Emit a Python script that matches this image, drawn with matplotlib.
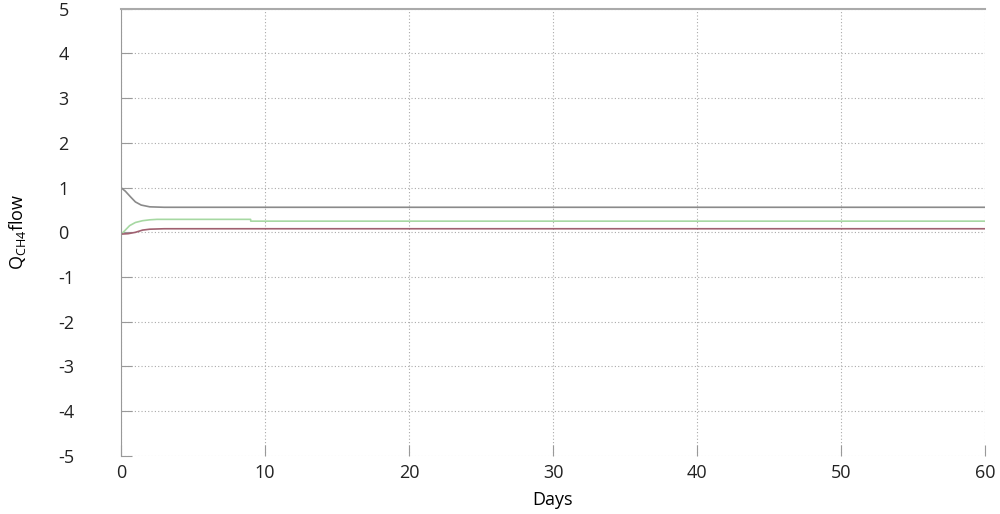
import matplotlib
matplotlib.use("Agg")
import matplotlib.pyplot as plt

# values
grey_days = [0, 0.3, 0.7, 1.0, 1.4, 2.0, 3.0, 4.0, 60]
grey_vals = [1.0, 0.92, 0.78, 0.68, 0.61, 0.57, 0.56, 0.56, 0.56]

green_days = [0, 0.3, 0.6, 1.0, 1.5, 2.0, 2.5, 9.0, 9.01, 60]
green_vals = [-0.05, 0.05, 0.15, 0.22, 0.26, 0.28, 0.29, 0.29, 0.25, 0.25]

red_days = [0, 0.5, 1.0, 1.5, 2.0, 3.0, 60]
red_vals = [-0.04, -0.03, 0.0, 0.05, 0.07, 0.08, 0.08]

x_ticks = [0, 10, 20, 30, 40, 50, 60]
y_ticks = [-5, -4, -3, -2, -1, 0, 1, 2, 3, 4, 5]

plt.rcParams['font.family'] = ['Open Sans', 'DejaVu Sans']
plt.rcParams['axes.unicode_minus'] = False

fig = plt.figure(figsize=(10, 5.14), dpi=100)
ax = fig.add_axes([0.121, 0.113, 0.864, 0.87])

ax.plot(grey_days, grey_vals, color='#8a8a8a', lw=1.2)
ax.plot(green_days, green_vals, color='#a6d8a2', lw=1.2)
ax.plot(red_days, red_vals, color='#a06070', lw=1.2)

ax.set_xlim(0, 60)
ax.set_ylim(-5, 5)
ax.set_xticks(x_ticks)
ax.set_yticks(y_ticks)
ax.grid(True, color='#aaaaaa', linestyle=(0, (1, 2)), lw=0.8)

for side in ['bottom', 'right']:
    ax.spines[side].set_visible(False)
ax.spines['left'].set_color('#999999')
ax.spines['top'].set_color('#aaaaaa')
ax.spines['top'].set_linewidth(1.5)

ax.tick_params(axis='both', colors='#999999', labelcolor='#222222', labelsize=13)
ax.tick_params(axis='x', length=8, direction='in', pad=6)
ax.tick_params(axis='y', length=8, direction='in', pad=45)
for lab in ax.get_yticklabels():
    lab.set_horizontalalignment('left')

ax.set_xlabel("Days", fontsize=13, labelpad=6)
ax.set_ylabel(r"Q$_{\mathregular{CH4}}$flow", fontsize=13)
ax.yaxis.set_label_coords(-0.108, 0.5)

fig.savefig("out.png", dpi=100)
